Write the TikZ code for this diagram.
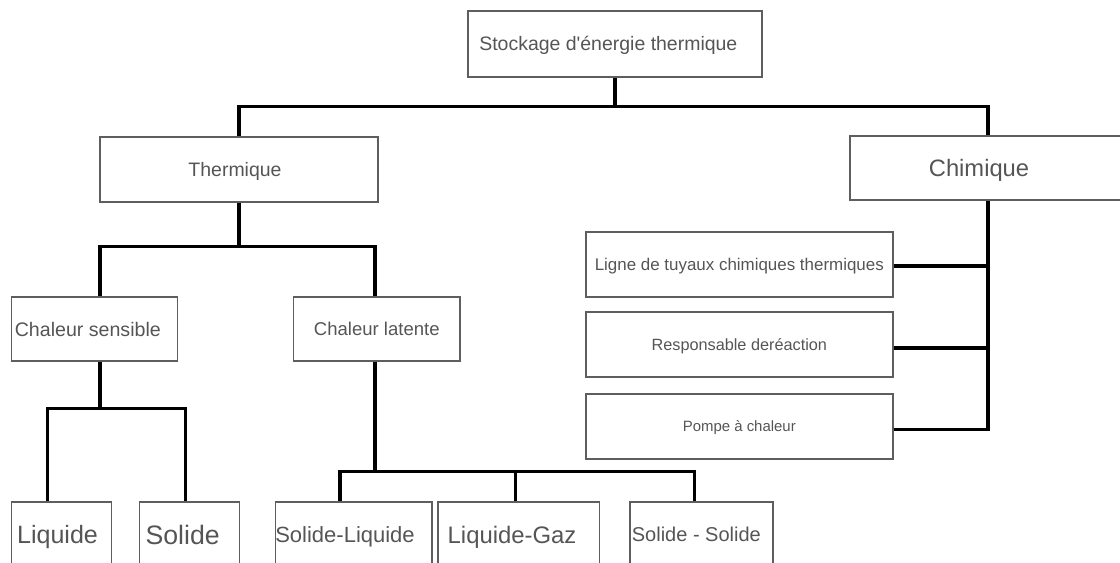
\documentclass[tikz,border=0pt]{standalone}
\usepackage{fontspec}
\newfontfamily\boxfont{Liberation Sans}
\usetikzlibrary{positioning}
\definecolor{boxgrey}{HTML}{5E5E5E}
\definecolor{txtgrey}{HTML}{555555}

\begin{document}
\begin{tikzpicture}[
    % GLOBAL CFG
    x=0.75pt, y=-0.75pt,
    font=\boxfont,
    % Styles
    box/.style={% For all the boxes
        rectangle,
        draw=boxgrey,
        line width=1.2pt,
        text=txtgrey,
        inner sep=0pt,
        minimum height=48.75pt,
        },
    fs/.code={% font size of a box, caps centred in it
        \pgfmathsetmacro\capht{0.716*#1}
        \edef\tmp{\noexpand\tikzset{font=\noexpand\boxfont\noexpand\fontsize{#1}{#1}\noexpand\selectfont,
            text height=\capht pt, text depth=0pt}}\tmp
        },
    link/.style={% Thick black connectors
        line width=2.5pt,
        black,
        }
    ]

    % Picture frame
    \useasboundingbox (0,0) rectangle (1120,563);
    \clip (0,0) rectangle (1120,563);

    % Draw the root and the two families
    \node [box, fs=14.6, minimum width=220.5pt, minimum height=49.5pt] (root) at (615,44) {Stockage d'énergie thermique\hspace*{10pt}};
    \node [box, fs=14.6, minimum width=208.5pt] (therm) at (239,169.5) {Thermique\hspace*{6pt}};
    \node [box, fs=17.8, minimum width=210pt, minimum height=48pt] (chim) at (990,168) {Chimique\hspace*{16.5pt}};

    % Thermique children
    \node [box, fs=14.7, minimum width=124.5pt, minimum height=48pt] (sens) at (94.5,329) {Chaleur sensible\hspace*{10pt}};
    \node [box, fs=13.9, minimum width=124.8pt, minimum height=48pt] (lat) at (376.8,329) {Chaleur latente};

    % Chimique children
    \node [box, fs=12.7, minimum width=230.4pt] (ligne) at (739.3,264.5) {Ligne de tuyaux chimiques thermiques};
    \node [box, fs=12.2, minimum width=230.4pt] (resp) at (739.3,344.5) {Responsable deréaction};
    \node [box, fs=11.2, minimum width=230.4pt] (pompe) at (739.3,426.5) {Pompe à chaleur};

    % Bottom row
    \node [box, fs=18.8, minimum width=75pt] (liq) at (61.5,534.5) {Liquide\hspace*{6pt}};
    \node [box, fs=20, minimum width=75pt] (sol) at (189.3,534.5) {Solide\hspace*{10pt}};
    \node [box, fs=16.5, minimum width=109.5pt] (sliq) at (353.7,534.5) {Solide-Liquide\hspace*{13pt}};
    \node [box, fs=17.9, minimum width=121pt] (lgaz) at (518.7,534.5) {Liquide-Gaz\hspace*{10pt}};
    \node [box, fs=15, minimum width=107.25pt] (ssol) at (701.7,534.5) {Solide - Solide\hspace*{8pt}};

% Start connecting all.
    \coordinate (xchim) at (988,0);

    % Root
    \draw [link] (root.south) -- ++(0,29) coordinate (jroot);
    \draw [link] (therm.north) |- (jroot) -| (chim.north -| xchim);

    % Thermique
    \draw [link] (therm.south) -- ++(0,44) coordinate (jtherm);
    \draw [link] ([xshift=4.1pt]sens.north) |- (jtherm) -| ([xshift=-1.35pt]lat.north);

    % Chaleur sensible
    \draw [link] ([xshift=4.1pt]sens.south) -- ++(0,47) coordinate (jsens);
    \draw [link] ([xshift=-10.4pt]liq.north) |- (jsens) -| ([xshift=-2.7pt]sol.north);

    % Chaleur latente
    \draw [link] ([xshift=-1.35pt]lat.south) -- ++(0,110) coordinate (jlat);
    \draw [link] ([xshift=-10.3pt]sliq.north) |- (jlat) -| ([xshift=-5.4pt]ssol.north);
    \draw [link] ([xshift=-2.4pt]lgaz.north) coordinate (tlgaz) -- (tlgaz |- jlat);

    % Chimique
    \draw [link] (chim.south -| xchim) |- ([yshift=-2pt]pompe.east);
    \draw [link] ([yshift=-1.1pt]ligne.east) coordinate (tligne) -- (tligne -| xchim);
    \draw [link] ([yshift=-2.6pt]resp.east) coordinate (tresp) -- (tresp -| xchim);

\end{tikzpicture}
\end{document}
